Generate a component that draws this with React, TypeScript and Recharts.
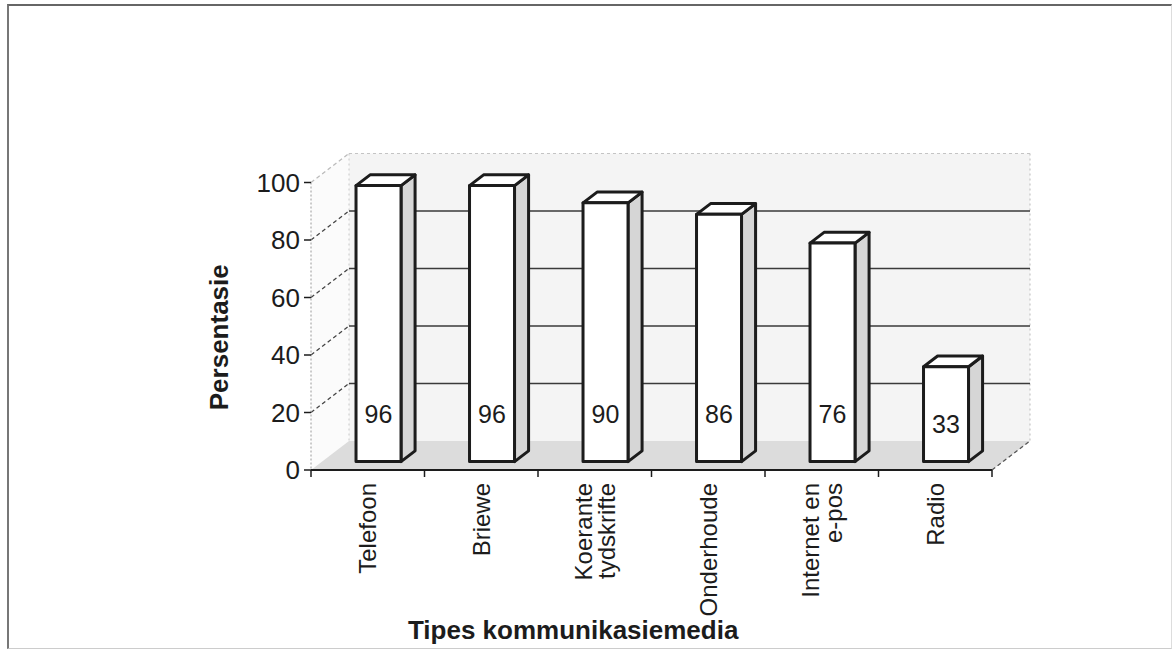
import { Bar, BarChart, ReferenceArea, XAxis, YAxis } from "recharts";

const CATEGORIES = ["Telefoon", "Briewe", "Koerante tydskrifte", "Onderhoude", "Internet en e-pos", "Radio"];
const LABEL_LINES = [["Telefoon"], ["Briewe"], ["Koerante", "tydskrifte"], ["Onderhoude"], ["Internet en", "e-pos"], ["Radio"]];
const VALUES = [96, 96, 90, 86, 76, 33];
const Y_TICKS = [0, 20, 40, 60, 80, 100];

const data = CATEGORIES.map((name, i) => ({ name, value: VALUES[i] }));

const FONT = "Arial, 'Liberation Sans', sans-serif";
const INK = "#1c1c1c";

// oblique depth of the 3D box: full floor depth, and where the bars sit in it
const DEPTH_X = 38;
const DEPTH_Y = 29;
const BAR_FRONT = 0.29;
const BAR_BACK = 0.66;

function Walls(props: any) {
  const { x, y, width, height } = props;
  const bottom = y + height;
  const gridValues = Y_TICKS.filter((v) => v > 0);
  const yOf = (v: number) => y + height * (1 - v / Y_TICKS[Y_TICKS.length - 1]);
  return (
    <g>
      {/* back wall */}
      <rect x={x + DEPTH_X} y={y - DEPTH_Y} width={width} height={height} fill="#f4f4f4" />
      {/* left wall */}
      <polygon
        points={`${x},${bottom} ${x},${y} ${x + DEPTH_X},${y - DEPTH_Y} ${x + DEPTH_X},${bottom - DEPTH_Y}`}
        fill="#fbfbfb"
      />
      {/* floor */}
      <polygon
        points={`${x},${bottom} ${x + width},${bottom} ${x + width + DEPTH_X},${bottom - DEPTH_Y} ${x + DEPTH_X},${bottom - DEPTH_Y}`}
        fill="#dcdcdc"
      />
      <line x1={x + width} y1={bottom} x2={x + width + DEPTH_X} y2={bottom - DEPTH_Y} stroke="#555" strokeWidth={1.3} strokeDasharray="4 3" />
      <line x1={x + DEPTH_X} y1={y - DEPTH_Y} x2={x + DEPTH_X} y2={bottom - DEPTH_Y} stroke="#c8c8c8" strokeWidth={1} strokeDasharray="2 3" />
      <line x1={x + width + DEPTH_X} y1={y - DEPTH_Y} x2={x + width + DEPTH_X} y2={bottom - DEPTH_Y} stroke="#bbb" strokeWidth={1} strokeDasharray="2 3" />
      {gridValues.map((v) => {
        const yy = yOf(v);
        const top = v === Y_TICKS[Y_TICKS.length - 1];
        return (
          <g key={v}>
            <line
              x1={x}
              y1={yy}
              x2={x + DEPTH_X}
              y2={yy - DEPTH_Y}
              stroke={top ? "#bbb" : "#444"}
              strokeWidth={1.3}
              strokeDasharray="4 3"
            />
            <line
              x1={x + DEPTH_X}
              y1={yy - DEPTH_Y}
              x2={x + width + DEPTH_X}
              y2={yy - DEPTH_Y}
              stroke={top ? "#c4c4c4" : "#3a3a3a"}
              strokeWidth={top ? 1 : 1.6}
              strokeDasharray={top ? "3 3" : undefined}
            />
          </g>
        );
      })}
    </g>
  );
}

function Box3D(props: any) {
  const { x, y, width, height, payload } = props;
  const fx = x + DEPTH_X * BAR_FRONT;
  const fy = y - DEPTH_Y * BAR_FRONT;
  const dx = DEPTH_X * (BAR_BACK - BAR_FRONT);
  const dy = DEPTH_Y * (BAR_BACK - BAR_FRONT);
  const right = fx + width;
  const base = fy + height;
  const labelY = base - Math.min(48, height * 0.4);
  return (
    <g stroke={INK} strokeWidth={3} strokeLinejoin="round">
      <polygon points={`${right},${fy} ${right + dx},${fy - dy} ${right + dx},${base - dy} ${right},${base}`} fill="#d6d6d6" />
      <polygon points={`${fx},${fy} ${right},${fy} ${right + dx},${fy - dy} ${fx + dx},${fy - dy}`} fill="#fff" />
      <rect x={fx} y={fy} width={width} height={height} fill="#fff" />
      <text
        x={fx + width / 2}
        y={labelY}
        dy="0.36em"
        textAnchor="middle"
        fontSize={25}
        fontFamily={FONT}
        fill={INK}
        stroke="none"
      >
        {payload.value}
      </text>
    </g>
  );
}

function CategoryTick(props: any) {
  const { x, y, payload, index } = props;
  const i = payload?.index ?? index ?? 0;
  const half = payload?.offset ?? 56.75;
  const lines = LABEL_LINES[i] ?? [String(payload.value)];
  const lineHeight = 23;
  return (
    <g>
      <line x1={x - half} y1={y} x2={x - half} y2={y + 7} stroke={INK} strokeWidth={1.5} />
      {i === CATEGORIES.length - 1 && <line x1={x + half} y1={y} x2={x + half} y2={y + 7} stroke={INK} strokeWidth={1.5} />}
      <text transform={`translate(${x},${y + 13}) rotate(-90)`} textAnchor="end" fontSize={24} fontFamily={FONT} fill={INK}>
        {lines.map((line, k) => (
          <tspan key={k} x={0} y={(k - (lines.length - 1) / 2) * lineHeight} dy="0.36em">
            {line}
          </tspan>
        ))}
      </text>
    </g>
  );
}

export default function App() {
  return (
    <div style={{ position: "absolute", left: 0, top: 0, width: 1175, height: 650, background: "#fff" }}>
      <div
        style={{
          position: "absolute",
          left: 7,
          top: 4,
          width: 1162,
          height: 642,
          borderTop: "2px solid #666",
          borderLeft: "2px solid #777",
          borderRight: "1px solid #ddd",
          borderBottom: "1px solid #ccc",
        }}
      />
      <BarChart
        width={1175}
        height={650}
        data={data}
        margin={{ top: 182.5, right: 183, bottom: 40, left: 251 }}
        barSize={45}
        style={{ position: "absolute", left: 0, top: 0 }}
      >
        <ReferenceArea y1={0} y2={100} shape={Walls} ifOverflow="visible" />
        <XAxis
          dataKey="name"
          height={140}
          tickSize={0}
          tickMargin={0}
          tickLine={false}
          axisLine={{ stroke: INK, strokeWidth: 2 }}
          tick={<CategoryTick />}
          interval={0}
          label={{
            content: (p: any) => {
              const vb = p.viewBox ?? { x: 311, y: 470, width: 681 };
              return (
                <text x={vb.x + vb.width * 0.385} y={639} textAnchor="middle" fontSize={26} fontWeight="bold" fontFamily={FONT} fill={INK}>
                  Tipes kommunikasiemedia
                </text>
              );
            },
          }}
        />
        <YAxis
          type="number"
          domain={[0, 100]}
          ticks={Y_TICKS}
          width={60}
          tickSize={7}
          tickMargin={4}
          tickLine={{ stroke: INK, strokeWidth: 1.5 }}
          axisLine={{ stroke: "#999", strokeWidth: 1, strokeDasharray: "2 2" }}
          tick={{ fontSize: 26, fontFamily: FONT, fill: INK }}
          label={{
            content: (p: any) => {
              const vb = p.viewBox ?? { x: 251, y: 182.5, height: 287.5 };
              const cx = vb.x - 32;
              const cy = vb.y + vb.height / 2 + 11;
              return (
                <text
                  transform={`translate(${cx},${cy}) rotate(-90)`}
                  textAnchor="middle"
                  dy="0.36em"
                  fontSize={26}
                  fontWeight="bold"
                  fontFamily={FONT}
                  fill={INK}
                >
                  Persentasie
                </text>
              );
            },
          }}
        />
        <Bar dataKey="value" shape={<Box3D />} isAnimationActive={false} />
      </BarChart>
    </div>
  );
}
